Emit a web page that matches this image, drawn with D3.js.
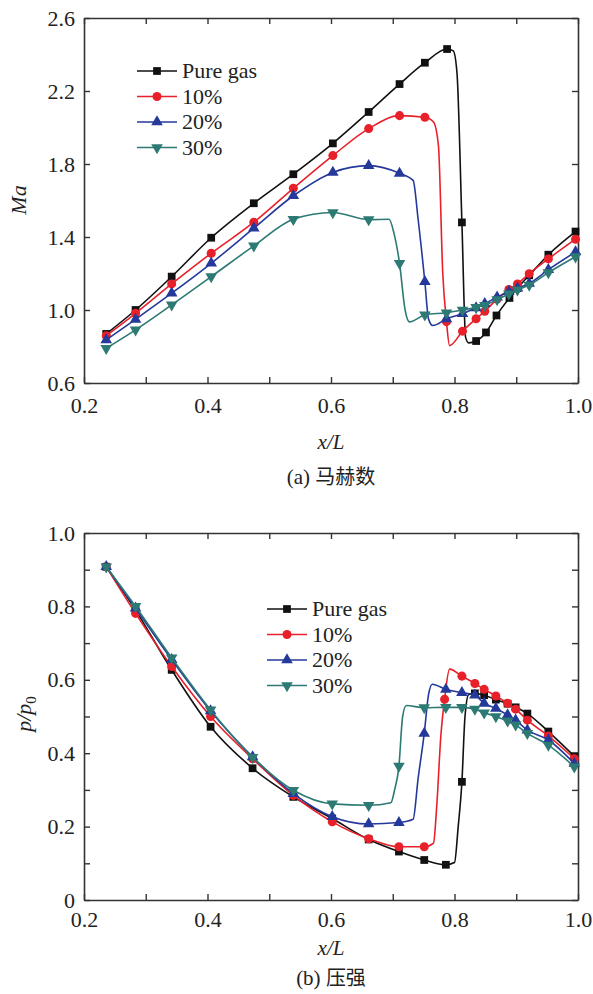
<!DOCTYPE html>
<html>
<head>
<meta charset="utf-8">
<script src="https://cdn.jsdelivr.net/npm/d3@7"></script>
<style>
  body { margin: 0; background: #fff; }
  text { font-family: "Liberation Serif", "DejaVu Serif", serif; fill: #222; }
  .cjk { font-family: "Noto Sans CJK SC", sans-serif; }
</style>
</head>
<body>
<div id="chart"></div>
<script>
// series names shared by both panels
const seriesNames = ['Pure gas', '10%', '20%', '30%'];

// x/L, value, 1 = drawn with a marker
const maPure = [
  [0.236, 0.869, 1], [0.2835, 1.0, 1], [0.342, 1.183, 1], [0.406, 1.396, 1], [0.475, 1.585, 1],
  [0.539, 1.744, 1], [0.603, 1.913, 1], [0.661, 2.085, 1], [0.711, 2.238, 1], [0.752, 2.355, 1],
  [0.788, 2.43, 1], [0.798, 2.42, 0], [0.804, 2.3, 0], [0.812, 1.48, 1], [0.818, 0.85, 0],
  [0.823, 0.82, 0], [0.835, 0.83, 1], [0.851, 0.877, 1], [0.868, 0.97, 1], [0.889, 1.066, 1],
  [0.902, 1.12, 1], [0.921, 1.19, 1], [0.952, 1.303, 1], [0.996, 1.43, 1]
];
const maTen = [
  [0.236, 0.859, 1], [0.2835, 0.982, 1], [0.342, 1.143, 1], [0.406, 1.311, 1], [0.475, 1.481, 1],
  [0.539, 1.667, 1], [0.603, 1.846, 1], [0.661, 1.994, 1], [0.711, 2.065, 1], [0.752, 2.056, 1],
  [0.766, 2.03, 0], [0.774, 1.9, 0], [0.781, 1.2, 0], [0.787, 0.936, 1], [0.792, 0.805, 0],
  [0.813, 0.884, 1], [0.835, 0.952, 1], [0.849, 0.993, 1], [0.869, 1.06, 1], [0.888, 1.112, 1],
  [0.902, 1.143, 1], [0.921, 1.199, 1], [0.952, 1.28, 1], [0.996, 1.388, 1]
];
const maTwenty = [
  [0.236, 0.836, 1], [0.2835, 0.949, 1], [0.342, 1.092, 1], [0.406, 1.256, 1], [0.475, 1.448, 1],
  [0.539, 1.626, 1], [0.603, 1.754, 1], [0.661, 1.791, 1], [0.711, 1.749, 1], [0.733, 1.71, 0],
  [0.741, 1.5, 0], [0.752, 1.155, 1], [0.758, 0.95, 0], [0.765, 0.915, 0], [0.787, 0.951, 1],
  [0.813, 0.98, 1], [0.835, 1.012, 1], [0.849, 1.035, 1], [0.869, 1.07, 1], [0.888, 1.1, 1],
  [0.902, 1.12, 1], [0.921, 1.146, 1], [0.952, 1.221, 1], [0.996, 1.318, 1]
];
const maThirty = [
  [0.236, 0.79, 1], [0.2835, 0.891, 1], [0.342, 1.028, 1], [0.406, 1.183, 1], [0.475, 1.351, 1],
  [0.539, 1.497, 1], [0.603, 1.534, 1], [0.661, 1.495, 1], [0.694, 1.497, 0], [0.702, 1.42, 0],
  [0.711, 1.256, 1], [0.72, 1.0, 0], [0.727, 0.935, 0], [0.752, 0.973, 1], [0.787, 0.985, 1],
  [0.813, 1.0, 1], [0.835, 1.014, 1], [0.849, 1.026, 1], [0.869, 1.057, 1], [0.888, 1.088, 1],
  [0.902, 1.11, 1], [0.921, 1.137, 1], [0.952, 1.205, 1], [0.996, 1.292, 1]
];

const pPure = [
  [0.236, 0.908, 1], [0.2835, 0.79, 1], [0.342, 0.627, 1], [0.405, 0.472, 1], [0.473, 0.359, 1],
  [0.539, 0.281, 1], [0.602, 0.222, 1], [0.661, 0.165, 1], [0.71, 0.132, 1], [0.751, 0.109, 1],
  [0.786, 0.096, 1], [0.8, 0.102, 0], [0.806, 0.2, 0], [0.812, 0.322, 1], [0.817, 0.5, 0],
  [0.823, 0.56, 0], [0.833, 0.563, 1], [0.848, 0.558, 1], [0.867, 0.546, 1], [0.886, 0.535, 1],
  [0.899, 0.525, 1], [0.918, 0.508, 1], [0.952, 0.459, 1], [0.994, 0.392, 1]
];
const pTen = [
  [0.236, 0.908, 1], [0.2835, 0.781, 1], [0.342, 0.636, 1], [0.405, 0.5, 1], [0.473, 0.385, 1],
  [0.539, 0.285, 1], [0.602, 0.213, 1], [0.661, 0.167, 1], [0.71, 0.145, 1], [0.751, 0.145, 1],
  [0.766, 0.155, 0], [0.771, 0.25, 0], [0.778, 0.45, 0], [0.784, 0.547, 1], [0.792, 0.629, 0],
  [0.812, 0.61, 1], [0.833, 0.59, 1], [0.848, 0.574, 1], [0.867, 0.556, 1], [0.886, 0.536, 1],
  [0.899, 0.52, 1], [0.918, 0.49, 1], [0.952, 0.447, 1], [0.994, 0.385, 1]
];
const pTwenty = [
  [0.236, 0.908, 1], [0.2835, 0.795, 1], [0.342, 0.655, 1], [0.405, 0.515, 1], [0.473, 0.39, 1],
  [0.539, 0.29, 1], [0.602, 0.227, 1], [0.661, 0.207, 1], [0.71, 0.211, 1], [0.733, 0.22, 0],
  [0.741, 0.33, 0], [0.751, 0.454, 1], [0.758, 0.56, 0], [0.764, 0.588, 0], [0.786, 0.574, 1],
  [0.812, 0.565, 1], [0.833, 0.558, 1], [0.848, 0.536, 1], [0.867, 0.522, 1], [0.886, 0.504, 1],
  [0.899, 0.49, 1], [0.918, 0.463, 1], [0.952, 0.436, 1], [0.994, 0.372, 1]
];
const pThirty = [
  [0.236, 0.908, 1], [0.2835, 0.8, 1], [0.342, 0.66, 1], [0.405, 0.518, 1], [0.473, 0.389, 1],
  [0.539, 0.299, 1], [0.602, 0.262, 1], [0.661, 0.258, 1], [0.697, 0.265, 0], [0.703, 0.3, 0],
  [0.71, 0.365, 1], [0.716, 0.5, 0], [0.722, 0.53, 0], [0.751, 0.524, 1], [0.786, 0.525, 1],
  [0.812, 0.525, 1], [0.833, 0.52, 1], [0.848, 0.51, 1], [0.867, 0.5, 1], [0.886, 0.488, 1],
  [0.899, 0.477, 1], [0.918, 0.454, 1], [0.952, 0.422, 1], [0.994, 0.363, 1]
];

const xTicks = [0.2, 0.3, 0.4, 0.5, 0.6, 0.7, 0.8, 0.9, 1.0];
const maTicks = [0.6, 1.0, 1.4, 1.8, 2.2, 2.6];
const pTicks = [0, 0.1, 0.2, 0.3, 0.4, 0.5, 0.6, 0.7, 0.8, 0.9, 1.0];

const colors = ['#111111', '#e8202a', '#25399a', '#2c7a73'];
const symbols = [d3.symbolSquare, d3.symbolCircle, d3.symbolTriangle, d3.symbolTriangle];
const symSizes = [60, 64, 58, 58];

const svg = d3.select('#chart').append('svg')
  .attr('width', 593)
  .attr('height', 994);

svg.append('rect').attr('width', 593).attr('height', 994).attr('fill', '#fff');

function drawPanel(opts) {
  const left = 84, right = 578;
  const x = d3.scaleLinear().domain([0.2, 1.0]).range([left, right]);
  const y = d3.scaleLinear().domain(opts.yDomain).range([opts.bottom, opts.top]);
  const g = svg.append('g');

  const xFmt = (d) => (Math.round(d * 10) % 2 === 0 ? d3.format('.1f')(d) : '');

  const bottomAxis = g.append('g')
    .attr('transform', 'translate(0,' + opts.bottom + ')')
    .call(d3.axisBottom(x).tickValues(xTicks).tickFormat(xFmt).tickSize(-6).tickSizeOuter(0).tickPadding(opts.xPad));
  const topAxis = g.append('g')
    .attr('transform', 'translate(0,' + opts.top + ')')
    .call(d3.axisTop(x).tickValues(xTicks).tickFormat('').tickSize(-6).tickSizeOuter(0));
  const leftAxis = g.append('g')
    .attr('transform', 'translate(' + left + ',0)')
    .call(d3.axisLeft(y).tickValues(opts.yTicks).tickFormat(opts.yFmt).tickSize(-6).tickSizeOuter(0).tickPadding(9));
  const rightAxis = g.append('g')
    .attr('transform', 'translate(' + right + ',0)')
    .call(d3.axisRight(y).tickValues(opts.yTicks).tickFormat('').tickSize(-6).tickSizeOuter(0));

  [bottomAxis, topAxis, leftAxis, rightAxis].forEach((a) => {
    a.select('.domain').attr('stroke', '#333').attr('stroke-width', 1.6);
    a.selectAll('.tick line').attr('stroke', '#333').attr('stroke-width', 1.4);
    a.selectAll('.tick text')
      .style('font-family', '"Liberation Serif", serif')
      .style('font-size', '22px')
      .attr('fill', '#222');
  });

  const line = d3.line()
    .x((d) => x(d[0]))
    .y((d) => y(d[1]))
    .curve(d3.curveMonotoneX);

  opts.series.forEach((s, i) => {
    g.append('path')
      .datum(s)
      .attr('fill', 'none')
      .attr('stroke', colors[i])
      .attr('stroke-width', 1.6)
      .attr('d', line);

    g.append('g').selectAll('path')
      .data(s.filter((d) => d[2] === 1))
      .enter()
      .append('path')
      .attr('d', d3.symbol().type(symbols[i]).size(symSizes[i]))
      .attr('fill', colors[i])
      .attr('transform', (d) => 'translate(' + x(d[0]) + ',' + y(d[1]) + ')' + (i === 3 ? ' rotate(180)' : ''));
  });

  // legend
  const lg = g.append('g').attr('transform', 'translate(' + opts.legendX + ',' + opts.legendY + ')');
  seriesNames.forEach((name, i) => {
    const row = lg.append('g').attr('transform', 'translate(0,' + (i * 25.5) + ')');
    row.append('line')
      .attr('x1', 0).attr('x2', 40)
      .attr('stroke', colors[i]).attr('stroke-width', 1.6);
    row.append('path')
      .attr('d', d3.symbol().type(symbols[i]).size(symSizes[i]))
      .attr('fill', colors[i])
      .attr('transform', 'translate(20,0)' + (i === 3 ? ' rotate(180)' : ''));
    row.append('text')
      .attr('x', 45).attr('y', 7)
      .style('font-size', '22px')
      .text(name);
  });

  // axis titles
  g.append('text')
    .attr('x', (left + right) / 2).attr('y', opts.bottom + opts.titleGap)
    .attr('text-anchor', 'middle')
    .style('font-size', '21px').style('font-style', 'italic')
    .text('x/L');

  const cap = g.append('text')
    .attr('x', (left + right) / 2).attr('y', opts.bottom + opts.capGap)
    .attr('text-anchor', 'middle')
    .style('font-size', '21px');
  cap.append('tspan').text(opts.capTag + ' ');
  cap.append('tspan').attr('class', 'cjk').style('font-size', '20px').text(opts.capText);

  return g;
}

const gA = drawPanel({
  top: 18, bottom: 383, yDomain: [0.6, 2.6], yTicks: maTicks,
  yFmt: d3.format('.1f'),
  series: [maPure, maTen, maTwenty, maThirty],
  legendX: 137, legendY: 71, xPad: 14,
  titleGap: 66, capTag: '(a)', capText: '马赫数', capGap: 101
});
gA.append('text')
  .attr('transform', 'translate(26,200) rotate(-90)')
  .attr('text-anchor', 'middle')
  .style('font-size', '22px').style('font-style', 'italic')
  .text('Ma');

const gB = drawPanel({
  top: 533, bottom: 900, yDomain: [0, 1.0], yTicks: pTicks,
  yFmt: (d) => (d === 0 ? '0' : (Math.round(d * 10) % 2 === 0 ? d3.format('.1f')(d) : '')),
  series: [pPure, pTen, pTwenty, pThirty],
  legendX: 267, legendY: 609, xPad: 11,
  titleGap: 55, capTag: '(b)', capText: '压强', capGap: 85
});
const pl = gB.append('text')
  .attr('transform', 'translate(31,714) rotate(-90)')
  .attr('text-anchor', 'middle')
  .style('font-size', '22px').style('font-style', 'italic');
pl.append('tspan').text('p/p');
pl.append('tspan').attr('dy', 5).style('font-size', '15px').style('font-style', 'normal').text('0');
</script>
</body>
</html>
